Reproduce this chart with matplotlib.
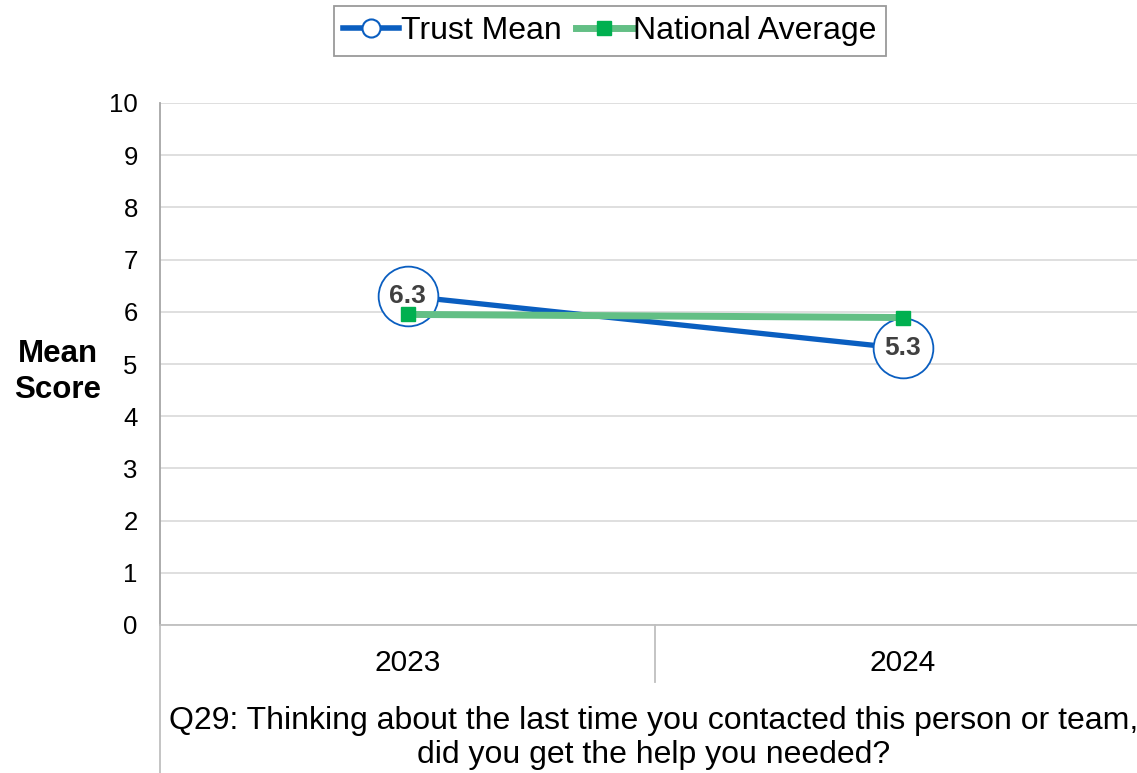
import matplotlib
matplotlib.use("Agg")
import matplotlib.pyplot as plt
from matplotlib.lines import Line2D

plt.rcParams['font.family'] = ['Liberation Sans', 'DejaVu Sans']

years = ["2023", "2024"]
trust_mean = [6.3, 5.3]
national_avg = [5.95, 5.89]
trust_labels = ["6.3", "5.3"]
question = "Q29: Thinking about the last time you contacted this person or team,\ndid you get the help you needed?"

blue = "#0A5EC0"
green_line = "#63BF85"
green_mk = "#00B050"

fig = plt.figure(figsize=(11.37, 7.73), dpi=100)
ax = fig.add_axes([160/1137, 148/773, 990/1137, 522/773])

x = list(range(len(years)))
ax.plot(x, trust_mean, color=blue, lw=3.8, zorder=3, solid_capstyle='round')
ax.plot(x, trust_mean, ls='none', marker='o', ms=43, mfc='white', mec=blue, mew=1.3, zorder=4)
ax.plot(x, national_avg, color=green_line, lw=5, zorder=5, marker='s', ms=10,
        mfc=green_mk, mec=green_mk, solid_capstyle='round')
for xi, yi, lab in zip(x, trust_mean, trust_labels):
    ax.text(xi, yi, lab, ha='center', va='center', fontsize=19, fontweight='bold',
            color='#404040', zorder=6)

ax.set_xlim(-0.5, 1.5)
ax.set_ylim(0, 10)
ax.set_yticks(range(0, 11))
ax.set_xticks(x)
ax.set_xticklabels(years)
ax.tick_params(axis='y', length=0, pad=16, labelsize=18.5)
ax.tick_params(axis='x', length=0, pad=17, labelsize=21.5)
ax.grid(axis='y', color='#D9D9D9', lw=1.2)
ax.set_axisbelow(True)
for s in ['top', 'right']:
    ax.spines[s].set_visible(False)
ax.spines['left'].set_color('#A6A6A6')
ax.spines['left'].set_linewidth(1.3)
ax.spines['bottom'].set_color('#BFBFBF')
ax.spines['bottom'].set_linewidth(1.3)

# category axis extension lines
ax.add_line(Line2D([0, 0], [0, -148/522], transform=ax.transAxes, color='#BFBFBF', lw=1.3, clip_on=False))
ax.add_line(Line2D([0.5, 0.5], [0, -57/522], transform=ax.transAxes, color='#BFBFBF', lw=1.3, clip_on=False))

fig.text(654/1137, 1 - 738/773, question, ha='center', va='center',
         fontsize=23, linespacing=1.18)

fig.text(58/1137, 1 - 372/773, "Mean\nScore", ha='center', va='center', fontsize=22.5,
         fontweight='bold', linespacing=1.25)

handles = [
    Line2D([], [], color=blue, lw=4, marker='o', ms=13, mfc='white', mec=blue, mew=1.5),
    Line2D([], [], color=green_line, lw=5, marker='s', ms=10, mfc=green_mk, mec=green_mk),
]
leg = fig.legend(handles, ["Trust Mean", "National Average"], loc='center',
                 bbox_to_anchor=(610/1137, 1 - 31/773), ncol=2, fontsize=23,
                 frameon=True, fancybox=False, edgecolor='#808080', handlelength=1.75,
                 handletextpad=0.05, columnspacing=0.45, borderpad=0.3, borderaxespad=0)
leg.get_frame().set_linewidth(1.3)

fig.savefig("out.png", dpi=100)
